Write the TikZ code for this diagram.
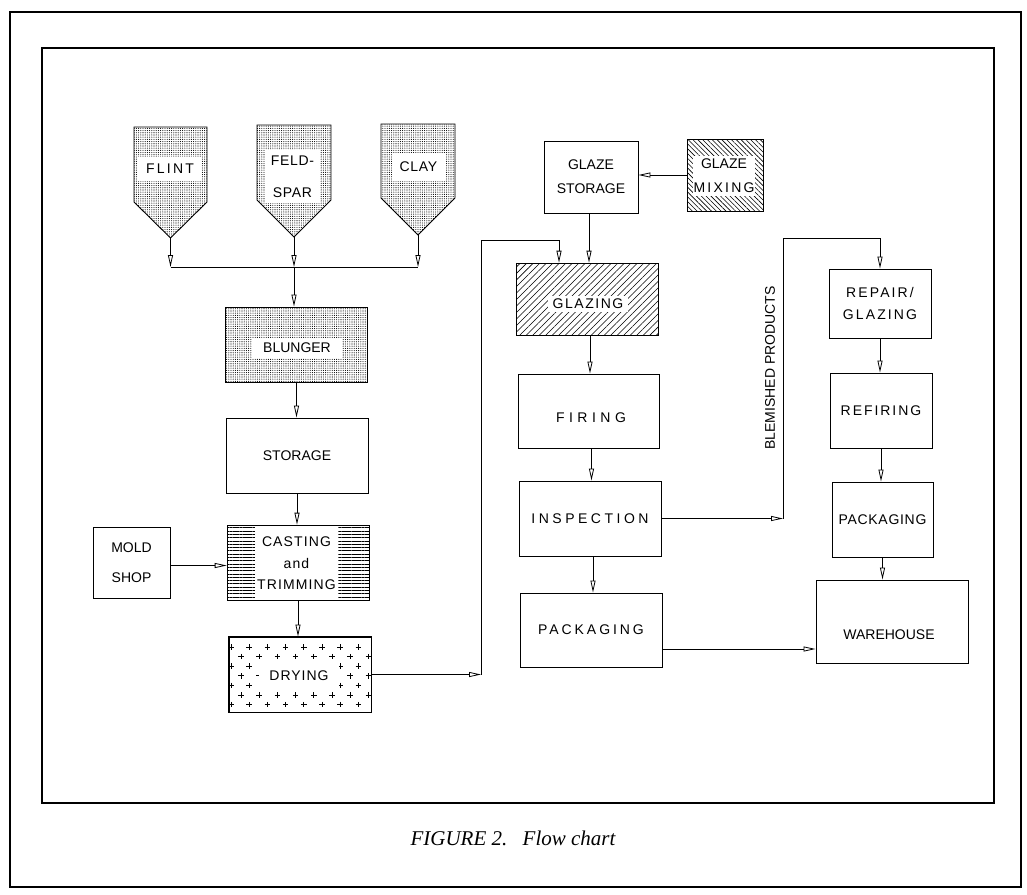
\documentclass[tikz,border=0pt]{standalone}
\usepackage{fontspec}
\setmainfont{Liberation Serif}
\newfontfamily\plotfont{Liberation Sans}
\usetikzlibrary{arrows.meta, patterns, patterns.meta, calc}
\begin{document}
\begin{tikzpicture}[x=1pt, y=-1pt,
  ls/.style={font={\plotfont\fontsize{14pt}{17pt}\selectfont\addfontfeature{LetterSpace=#1}}},
  pbox/.style={draw, line width=0.9pt, inner sep=0pt, align=center, ls=0},
  lbl/.style={fill=white, inner sep=0pt, align=center},
  txt/.style={inner sep=0pt, align=center},
  hop/.style={draw, line width=0.9pt, pattern={Dots[distance=2.2pt,radius=0.55pt]}},
  dotfill/.style={pattern={Dots[distance=2.2pt,radius=0.55pt]}},
  conn/.style={line width=0.8pt},
  arr/.style={line width=0.8pt, -{Triangle[open, length=12pt, width=5pt]}}
]
\useasboundingbox (0,0) rectangle (1027,894);

% frames
\draw[line width=1.2pt] (10,12) rectangle (1021,887);
\draw[line width=1.6pt] (42,48) rectangle (994,803);

% hoppers
\draw[hop] (134,127) -- (207,127) -- (207,202) -- (170.5,238) -- (134,202) -- cycle;
\coordinate (flint) at (170.5,238);
\node[lbl, minimum width=64pt, minimum height=24pt, ls=16] (flintT) at (170,169) {FLINT};

\draw[hop] (257,125) -- (331,125) -- (331,200) -- (294,237) -- (257,200) -- cycle;
\coordinate (feld) at (294,237);
\node[lbl, minimum width=55pt, minimum height=53pt, ls=5] (feldT) at (292.5,176.5) {FELD-\\[15pt]SPAR};

\draw[hop] (381,124) -- (455,124) -- (455,198) -- (418,235) -- (381,198) -- cycle;
\coordinate (clay) at (418,235);
\node[lbl, minimum width=53pt, minimum height=28pt, ls=5] (clayT) at (418.5,167) {CLAY};

\coordinate (jL) at (170.5,267);
\coordinate (jM) at (294,267);
\coordinate (jR) at (418,267);

% left column
\node[pbox, minimum width=142pt, minimum height=75pt, dotfill] (blunger) at (296.5,344.5) {};
\node[lbl, minimum width=90pt, minimum height=20pt, ls=0] (blungerT) at (297,348) {BLUNGER};

\node[pbox, minimum width=142pt, minimum height=75pt, ls=0] (storage) at (297,455.5) {STORAGE};

\node[pbox, minimum width=142pt, minimum height=75pt, pattern={Lines[angle=0,distance=3.3pt,line width=0.6pt]}] (casting) at (298,562.5) {};
\node[lbl, minimum width=83pt, minimum height=73pt, ls=8] (castingT) at (296.5,563.5) {CASTING\\[4.5pt]and\\[4.5pt]TRIMMING};

\node[pbox, minimum width=77pt, minimum height=71pt, ls=0] (mold) at (131.5,562.5) {MOLD\\[13pt]SHOP};

\node[pbox, minimum width=142pt, minimum height=75pt, fill=white] (drying) at (300,674.5) {};
\begin{scope}
  \clip (drying.north west) rectangle (drying.south east);
  \foreach \r in {0,...,6} {
    \foreach \k in {0,...,7} {
      \draw[line width=0.7pt] ({231+18.2*\k+10*mod(\r,2)},{647+9.6*\r}) +(-2.8,0) -- +(2.8,0) +(0,-2.8) -- +(0,2.8);
    }
  }
\end{scope}
\node[lbl, minimum width=80pt, minimum height=30pt, ls=7] (dryingT) at (299,676) {DRYING};
\draw[line width=0.9pt] (drying.north west) rectangle (drying.south east);

% middle column
\node[pbox, minimum width=94pt, minimum height=72pt, ls=0] (gstorage) at (591,177) {GLAZE\\[7pt]STORAGE};

\node[pbox, minimum width=76pt, minimum height=72pt, pattern={Lines[angle=-45,distance=3.4pt,line width=0.6pt]}] (gmixing) at (725,175) {};
\node[lbl, minimum width=62pt, minimum height=40pt, ls=0] (gmixingT) at (724,175.5) {GLAZE\\[7pt]{\addfontfeature{LetterSpace=16}MIXING}};

\node[pbox, minimum width=142pt, minimum height=72pt, pattern={Lines[angle=45,distance=4.6pt,line width=0.6pt]}] (glazing) at (587,299) {};
\node[lbl, minimum width=80pt, minimum height=16pt, ls=11] (glazingT) at (588,304) {GLAZING};

\node[pbox, minimum width=141pt, minimum height=74pt] (firing) at (588.5,411) {};
\node[txt, ls=32] (firingT) at (591,418) {FIRING};

\node[pbox, minimum width=142pt, minimum height=75pt, ls=25] (insp) at (590,518.5) {INSPECTION};
\node[pbox, minimum width=142pt, minimum height=74pt, ls=21] (pack) at (591,630) {PACKAGING};

% right column
\node[pbox, minimum width=102pt, minimum height=69pt, ls=15] (repair) at (880,303.5) {REPAIR/\\[5pt]GLAZING};
\node[pbox, minimum width=102pt, minimum height=75pt, ls=14] (refiring) at (881,410.5) {REFIRING};
\node[pbox, minimum width=101pt, minimum height=75pt, ls=5] (pack2) at (882.5,519.5) {PACKAGING};
\node[pbox, minimum width=152pt, minimum height=83pt] (wh) at (892,621.5) {};
\node[txt, ls=0] (whT) at (889,635) {WAREHOUSE};

\node[txt, rotate=90, ls=0] (blem) at (770,368) {BLEMISHED PRODUCTS};

% connectors
\draw[arr] (flint) -- (jL);
\draw[arr] (feld) -- (jM);
\draw[arr] (clay) -- (jR);
\draw[conn] (jL) -- (jR);
\draw[arr] (jM) -- (jM |- blunger.north);
\draw[arr] (blunger.south) -- (blunger.south |- storage.north);
\draw[arr] (storage.south) -- (storage.south |- casting.north);
\draw[arr] (casting.south) -- (casting.south |- drying.north);
\draw[arr] ([yshift=-3pt]mold.east) -- ([yshift=-3pt]mold.east -| casting.west);

\coordinate (d1) at (481,674.5);
\coordinate (d2) at (559,240);
\draw[arr] (drying.east) -- (d1);
\draw[conn] (d1) |- (d2);
\draw[arr] (d2) -- (d2 |- glazing.north);

\draw[arr] (gmixing.west) -- (gmixing.west -| gstorage.east);
\draw[arr] ([xshift=-2pt]gstorage.south) -- ([xshift=-2pt]gstorage.south |- glazing.north);
\draw[arr] ([xshift=3pt]glazing.south) -- ([xshift=3pt]glazing.south |- firing.north);
\draw[arr] ([xshift=3pt]firing.south) -- ([xshift=3pt]firing.south |- insp.north);
\draw[arr] ([xshift=3pt]insp.south) -- ([xshift=3pt]insp.south |- pack.north);

\coordinate (b1) at (783,518.5);
\coordinate (b2) at (880,238);
\draw[arr] (insp.east) -- (b1);
\draw[conn] (b1) |- (b2);
\draw[arr] (b2) -- (b2 |- repair.north);
\draw[arr] (repair.south) -- (repair.south |- refiring.north);
\draw[arr] (refiring.south) -- (refiring.south |- pack2.north);
\draw[arr] (pack2.south) -- (pack2.south |- wh.north);
\draw[arr] ([yshift=-19pt]pack.east) -- ([yshift=-19pt]pack.east -| wh.west);

% caption
\node[inner sep=0pt, font=\itshape\fontsize{21pt}{24pt}\selectfont] (cap) at (513,838) {FIGURE 2.\hspace{0.4em} Flow chart};
\end{tikzpicture}
\end{document}
